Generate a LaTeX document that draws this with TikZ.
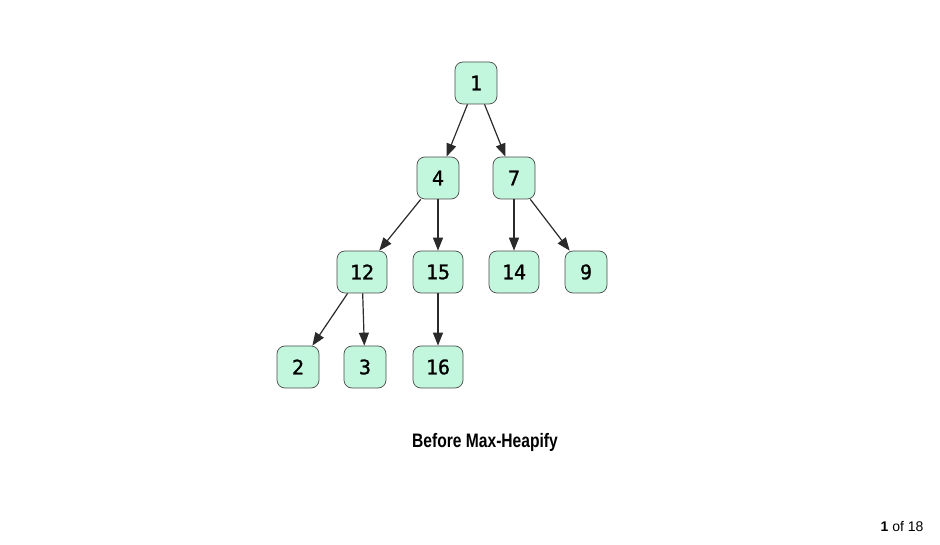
\documentclass[tikz,border=0pt]{standalone}
\usepackage{fontspec}
\setmainfont{Liberation Sans}
\newfontfamily\keyfont[FakeBold=1.2]{DejaVu Sans Mono}
\usetikzlibrary{arrows.meta,positioning}
\definecolor{mint}{HTML}{C2F7DE}
\definecolor{edge}{HTML}{2A2A2A}

\begin{document}
\begin{tikzpicture}[x=1pt,y=-1pt,>={Triangle[length=13pt,width=10pt]}]
\tikzset{key/.style={draw=edge!85,fill=mint,rounded corners=8pt,line width=0.7pt,minimum width=42pt,minimum height=42pt,inner sep=0pt,font=\keyfont\fontsize{20}{22}\selectfont}, wide/.style={key,minimum width=50pt}, arr/.style={->,draw=edge,line width=1.2pt}}
\useasboundingbox (0,0) rectangle (940,545);
% tree nodes
\node[key] (n1) at (476,83) {1};
\node[key] (n4) at (438,178) {4};
\node[key] (n7) at (514,178) {7};
\node[wide] (n12) at (362,272) {12};
\node[wide] (n15) at (438,272) {15};
\node[wide] (n14) at (514,272) {14};
\node[key] (n9) at (586,272) {9};
\node[key] (n2) at (298,367) {2};
\node[key] (n3) at (365,367) {3};
\node[wide] (n16) at (438,367) {16};
% edges
\draw[arr] (n1)--(n4); \draw[arr] (n1)--(n7);
\draw[arr] (n4)--(n12); \draw[arr] (n4)--(n15);
\draw[arr] (n7)--(n14); \draw[arr] (n7)--(n9);
\draw[arr] (n12)--(n2); \draw[arr] (n12)--(n3);
\draw[arr] (n15)--(n16);
% labels
\node (title) at (485,442) {\scalebox{0.8}[1]{\bfseries\fontsize{19.5}{22}\selectfont Before Max-Heapify}};
\node[anchor=east,font=\fontsize{14}{16}\selectfont] (page) at (927,527) {\textbf{1} of 18};
\end{tikzpicture}
\end{document}
